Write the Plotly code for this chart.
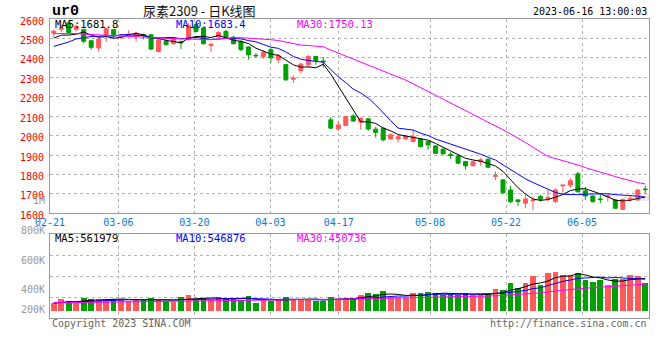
import pandas as pd
import plotly.graph_objects as go

# ---------------- data ----------------
holidays = ["2023-04-05", "2023-05-01", "2023-05-02", "2023-05-03"]
trade_days = [d for d in pd.bdate_range("2023-02-21", "2023-06-16")
              if d.strftime("%Y-%m-%d") not in holidays]
dates = [d.strftime("%m-%d") for d in trade_days]

tick_labels = ["02-21", "03-06", "03-20", "04-03", "04-17", "05-08", "05-22", "06-05"]

open_ = [2527, 2547, 2580, 2547, 2545, 2488, 2451, 2519, 2545, 2506,
         2515, 2511, 2520, 2519, 2433, 2485, 2473, 2483, 2493, 2571,
         2554, 2463, 2507, 2536, 2507, 2485, 2456, 2413, 2407, 2442,
         2390, 2365, 2290, 2335, 2365, 2407, 2384, 2081, 2034, 2052,
         2101, 2069, 2086, 2033, 2038, 1983, 1983, 1983, 1969, 1983,
         1969, 1947, 1930, 1902, 1895, 1866, 1845, 1866, 1878, 1790,
         1772, 1720, 1669, 1652, 1664, 1686, 1675, 1660, 1741, 1745,
         1803, 1716, 1689, 1674, 1685, 1669, 1621, 1672, 1669, 1725]
high = [2545, 2571, 2590, 2570, 2550, 2490, 2505, 2555, 2549, 2520,
        2542, 2532, 2525, 2522, 2500, 2502, 2507, 2490, 2578, 2585,
        2560, 2478, 2536, 2545, 2512, 2490, 2460, 2425, 2440, 2452,
        2420, 2370, 2310, 2375, 2415, 2410, 2405, 2095, 2075, 2102,
        2110, 2094, 2090, 2045, 2042, 2012, 2005, 2000, 2030, 1985,
        1972, 1950, 1935, 1915, 1905, 1870, 1870, 1885, 1882, 1815,
        1775, 1742, 1672, 1695, 1685, 1695, 1720, 1728, 1747, 1780,
        1815, 1735, 1692, 1695, 1700, 1672, 1675, 1695, 1725, 1742]
low = [2507, 2532, 2528, 2535, 2476, 2442, 2432, 2482, 2500, 2494,
       2505, 2485, 2496, 2440, 2428, 2463, 2466, 2445, 2490, 2530,
       2468, 2430, 2502, 2500, 2468, 2435, 2390, 2400, 2395, 2375,
       2375, 2282, 2270, 2320, 2350, 2365, 2350, 2033, 2025, 2050,
       2070, 2030, 2025, 1990, 1970, 1978, 1965, 1978, 1965, 1940,
       1925, 1905, 1900, 1880, 1853, 1826, 1840, 1845, 1834, 1772,
       1700, 1652, 1638, 1625, 1616, 1660, 1660, 1652, 1706, 1730,
       1706, 1668, 1655, 1652, 1660, 1624, 1618, 1660, 1664, 1703]
close = [2537, 2553, 2531, 2562, 2485, 2454, 2497, 2550, 2519, 2510,
         2522, 2528, 2514, 2445, 2493, 2468, 2502, 2478, 2566, 2536,
         2473, 2470, 2531, 2507, 2473, 2442, 2416, 2411, 2428, 2400,
         2411, 2287, 2295, 2368, 2407, 2387, 2380, 2038, 2055, 2098,
         2075, 2090, 2034, 2016, 1978, 2004, 1994, 1998, 1994, 1943,
         1952, 1909, 1906, 1898, 1858, 1844, 1866, 1875, 1837, 1795,
         1706, 1660, 1660, 1674, 1667, 1672, 1680, 1720, 1745, 1768,
         1711, 1689, 1660, 1671, 1690, 1626, 1672, 1676, 1720, 1722]
volume = [132000, 205000, 171000, 132000, 222000, 205000, 205000, 205000, 205000, 205000,
          171000, 188000, 188000, 222000, 188000, 171000, 159000, 239000, 274000, 188000,
          222000, 188000, 239000, 205000, 205000, 188000, 257000, 142000, 188000, 171000,
          188000, 239000, 205000, 205000, 205000, 171000, 171000, 239000, 205000, 222000,
          205000, 274000, 308000, 291000, 342000, 239000, 239000, 222000, 308000, 308000,
          325000, 308000, 274000, 291000, 274000, 308000, 274000, 274000, 291000, 376000,
          359000, 479000, 393000, 479000, 599000, 445000, 650000, 667000, 616000, 616000,
          650000, 530000, 496000, 530000, 445000, 547000, 547000, 616000, 599000, 479000]

# closes / volumes before the window (estimated from where the MA lines start)
prior_close = [2540, 2552, 2561, 2570, 2548, 2556, 2565, 2572, 2560, 2549,
               2553, 2566, 2575, 2562, 2550, 2545, 2558, 2564, 2556, 2558,
               2440, 2420, 2400, 2410, 2410, 2480, 2527, 2540, 2426]
prior_volume = [150000, 135000, 142000, 128000, 160000, 138000, 145000, 132000, 150000, 140000,
                136000, 148000, 130000, 144000, 152000, 138000, 141000, 135000, 147000, 133000,
                139000, 150000, 128000, 142000, 137000, 145000, 131000, 140000, 138000]

title_text = "尿素2309 - 日K线图"
symbol_text = "ur0"
stamp_text = "2023-06-16 13:00:03"
price_ma_text = ["MA5:1681.8", "MA10:1683.4", "MA30:1750.13"]
vol_ma_text = ["MA5:561979", "MA10:546876", "MA30:450736"]
vol_axis_labels = ["1M", "800K", "600K", "400K", "200K"]

# ---------------- styling ----------------
W, H = 660, 360
P_LEFT, P_RIGHT, P_TOP, P_BOTTOM = 50, 649, 19, 318
ML, MT = P_LEFT, P_TOP
MR, MB = W - P_RIGHT, H - P_BOTTOM
PW = P_RIGHT - P_LEFT
PH = P_BOTTOM - P_TOP

MONO = "DejaVu Sans Mono"
RED = "#ff5a5a"
GREEN = "#00a000"
BLUE_TXT = "#0a78d2"
GRID = "#b4b4b4"
BORDER = "#9a9a9a"
MA_COLORS = ["#000000", "#0000ff", "#ff00ff"]


def py(ypx):
    return (P_BOTTOM - ypx) / PH


def px(xpx):
    return (xpx - P_LEFT) / PW


n = len(close)
xi = list(range(n))

cs = pd.Series(prior_close + close, dtype=float)
vs = pd.Series(prior_volume + volume, dtype=float)
k0 = len(prior_close)
price_ma = [cs.rolling(w).mean().iloc[k0:].tolist() for w in (5, 10, 30)]
vol_ma = [vs.rolling(w).mean().iloc[k0:].tolist() for w in (5, 10, 30)]

# Sina's date grid advances slightly faster than the bar slots
slot_ratio = 7.6 / (PW / n)
tick_pos = [-0.5 + dates.index(t) * slot_ratio for t in tick_labels]

vol_scale = 17100.0  # shares per pixel
vol_range = [-(P_BOTTOM - 311) * vol_scale, (311 - 234) * vol_scale]
vol_grid = [vol_range[0] + k * (vol_range[1] - vol_range[0]) / 4 for k in (1, 2, 3)]

fig = go.Figure()
fig.add_trace(go.Candlestick(
    x=xi, open=open_, high=high, low=low, close=close,
    increasing=dict(line=dict(color=RED, width=1), fillcolor=RED),
    decreasing=dict(line=dict(color=GREEN, width=1), fillcolor=GREEN),
    whiskerwidth=0, xaxis="x", yaxis="y", hoverinfo="skip", showlegend=False))
for ma, c in zip(price_ma, MA_COLORS):
    fig.add_trace(go.Scatter(x=xi, y=ma, mode="lines", line=dict(color=c, width=1),
                             xaxis="x", yaxis="y", hoverinfo="skip", showlegend=False))

bar_colors = [RED if c >= o else GREEN for o, c in zip(open_, close)]
fig.add_trace(go.Bar(x=xi, y=volume, marker=dict(color=bar_colors, line=dict(width=0)),
                     width=0.76, xaxis="x2", yaxis="y2", hoverinfo="skip", showlegend=False))
for ma, c in zip(vol_ma, MA_COLORS):
    fig.add_trace(go.Scatter(x=xi, y=ma, mode="lines", line=dict(color=c, width=1),
                             xaxis="x2", yaxis="y2", hoverinfo="skip", showlegend=False))

common_x = dict(range=[-0.5, n - 0.5], tickvals=tick_pos, showgrid=True, gridcolor=GRID,
                griddash="dot", gridwidth=1, showline=True, linecolor=BORDER, linewidth=1,
                mirror=True, ticks="", zeroline=False, fixedrange=True,
                rangeslider=dict(visible=False))

fig.update_layout(
    width=W, height=H, margin=dict(l=ML, r=MR, t=MT, b=MB, autoexpand=False),
    paper_bgcolor="white", plot_bgcolor="white", showlegend=False, boxgap=0.24,
    bargap=0,
    xaxis=dict(domain=[0, 1], anchor="y", ticktext=tick_labels,
               tickfont=dict(family=MONO, size=10, color=BLUE_TXT), **common_x),
    yaxis=dict(domain=[py(213.3), 1], anchor="x", range=[1600, 2600],
               tickvals=list(range(1600, 2601, 100)), ticks="", showgrid=True,
               gridcolor=GRID, griddash="dot", gridwidth=1, showline=True,
               linecolor=BORDER, mirror=True, zeroline=False,
               tickfont=dict(family=MONO, size=10, color="#ff0000"),
               ticklabelstandoff=3, ticklabelshift=2),
    xaxis2=dict(domain=[0, 1], anchor="y2", showticklabels=False, **common_x),
    yaxis2=dict(domain=[0, py(234)], anchor="x2", range=vol_range, tickvals=vol_grid,
                showticklabels=False, ticks="", showgrid=True, gridcolor=GRID,
                griddash="dot", gridwidth=1, showline=True, linecolor=BORDER,
                mirror=True, zeroline=False),
)

ann = []


def text(x, y, s, size=10, color="#000", xanchor="left", family=MONO):
    ann.append(dict(x=px(x), y=py(y), xref="paper", yref="paper", text=s, showarrow=False,
                    xanchor=xanchor, yanchor="middle", font=dict(family=family, size=size, color=color)))


text(50, 11.5, "<b>" + symbol_text + "</b>", size=15, family="Liberation Mono")
text(141, 10, title_text, size=13, color="#111", family="Noto Sans CJK SC")
text(649, 11.5, stamp_text, size=10, xanchor="right")
for xx, s, c in zip((53, 174, 295), price_ma_text, MA_COLORS):
    text(xx, 23.7, s, size=10.5, color=c)
for xx, s, c in zip((53, 174, 295), vol_ma_text, MA_COLORS):
    text(xx, 238.3, s, size=10.5, color=c)
for yy, s in zip((200.5, 230.5, 260.5, 289.5, 309.5), vol_axis_labels):
    text(46.5, yy, s, size=10, color="#999999", xanchor="right")
text(50, 323.5, "Copyright 2023 SINA.COM", size=10, color="#666666")
text(649, 323.5, "http://finance.sina.com.cn", size=10, color="#666666", xanchor="right")
text(637, 197, "<i><b>sina</b></i>", size=12, color="rgba(220,140,140,0.35)",
     xanchor="center", family="DejaVu Sans")
fig.update_layout(annotations=ann)

# remove the browser's default 8px body margin so the figure fills the window
fig.write_html("out.html", config={"displayModeBar": False, "staticPlot": True},
               post_script="document.body.style.margin='0px';")
